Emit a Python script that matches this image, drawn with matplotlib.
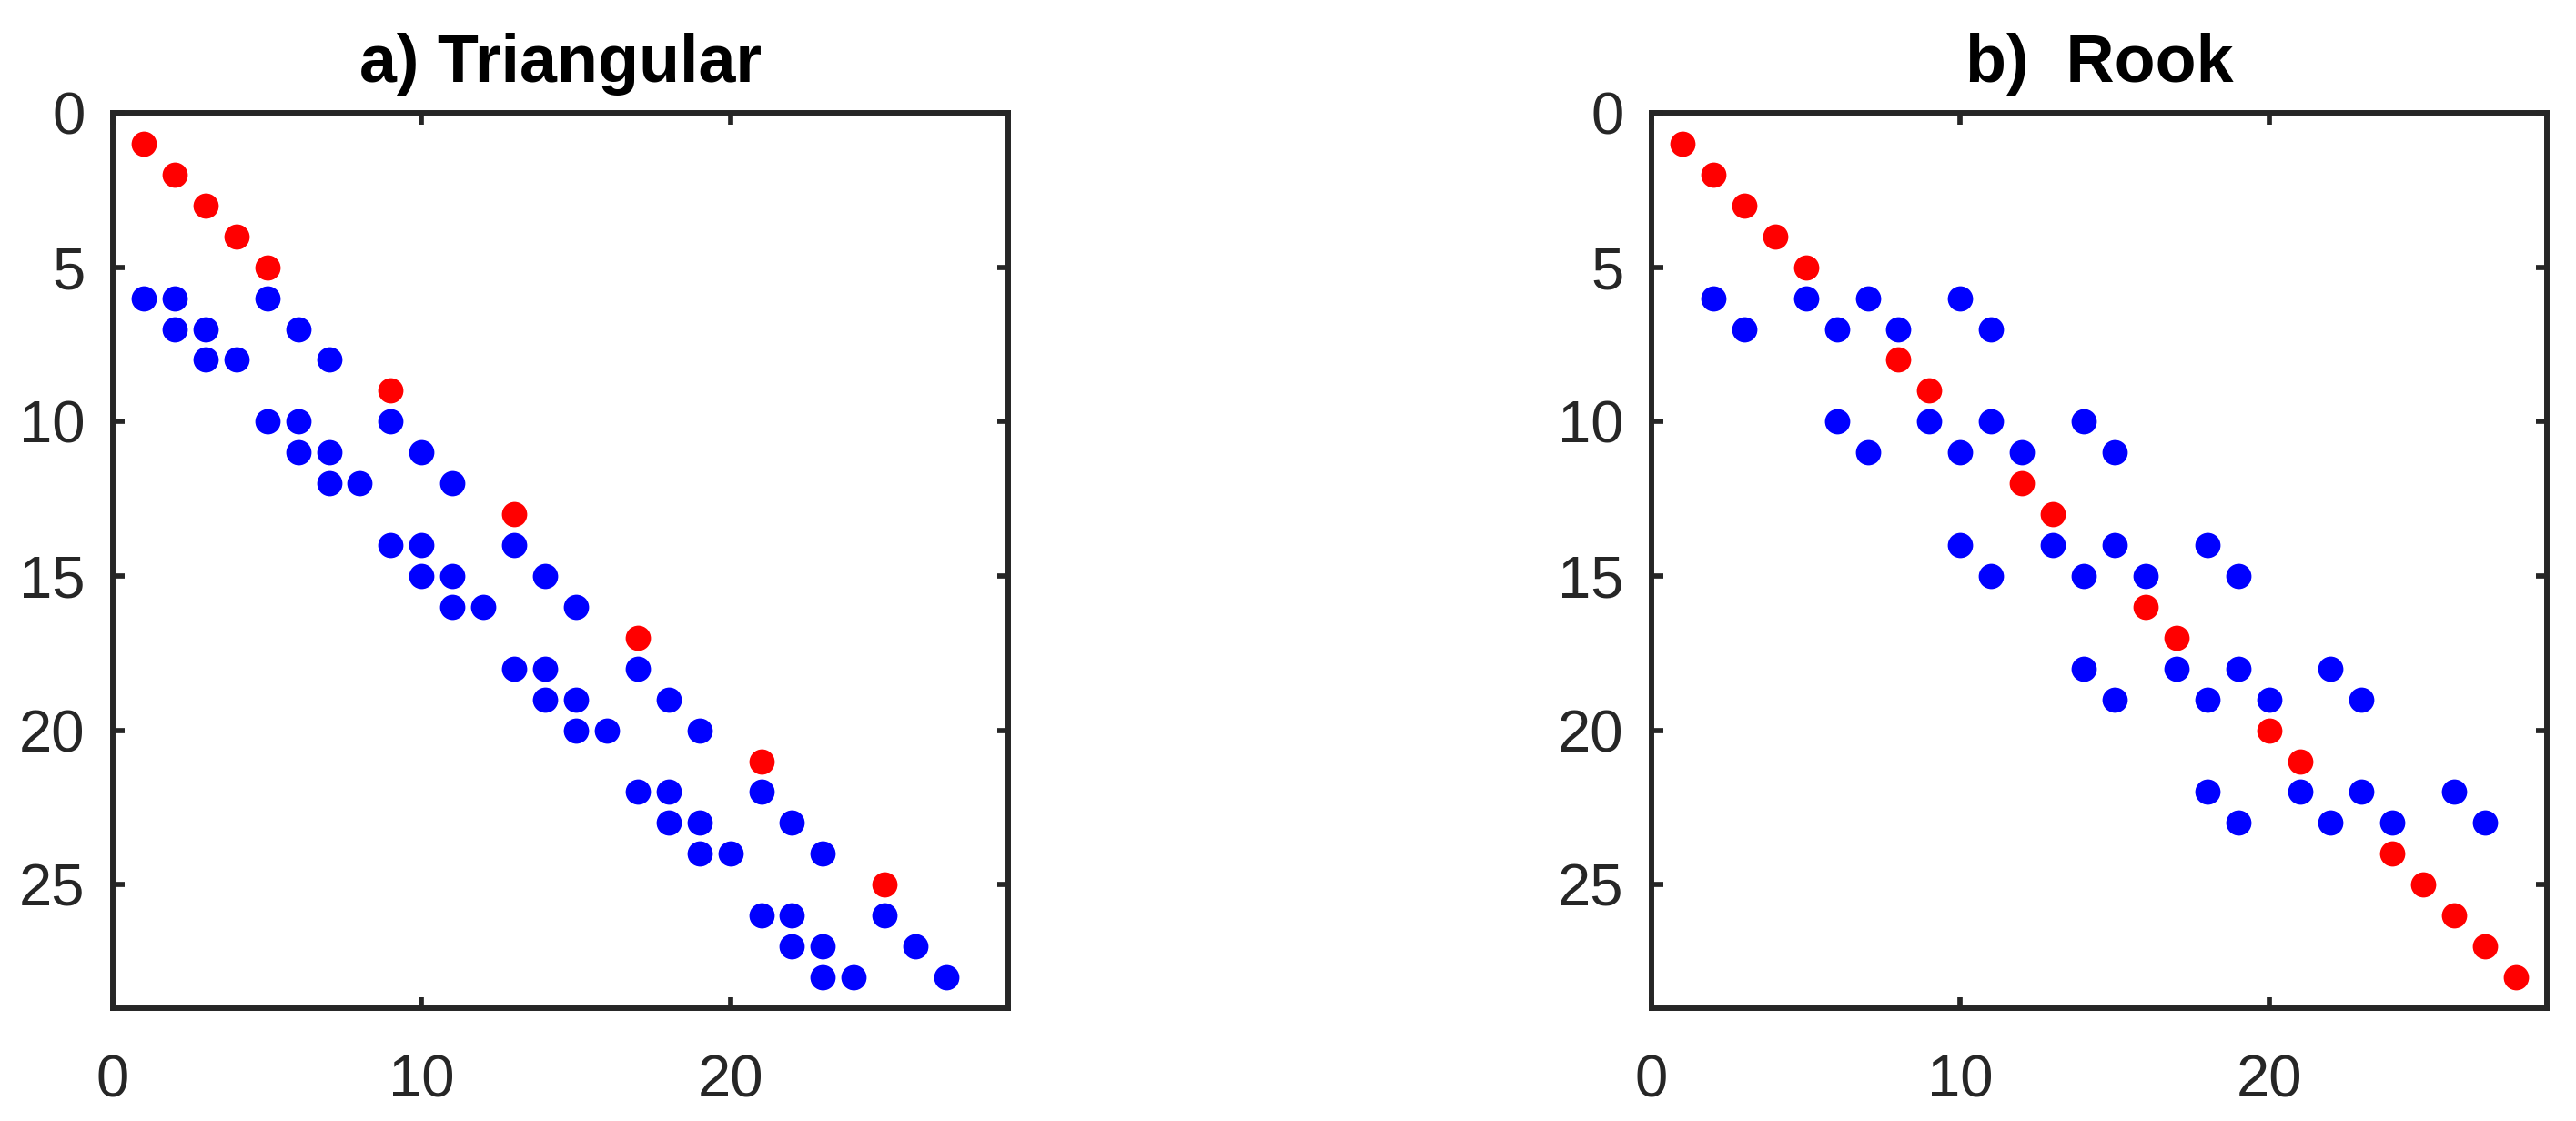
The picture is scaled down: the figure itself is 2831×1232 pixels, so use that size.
import matplotlib
matplotlib.use("Agg")
import matplotlib.pyplot as plt

plt.rcParams['font.family'] = ['Liberation Sans', 'DejaVu Sans']

# ---- data ----
titles = ["a) Triangular", "b)  Rook"]

tri_red = [1, 2, 3, 4, 5, 9, 13, 17, 21, 25]
tri_blue_rows = [6, 6, 6, 7, 7, 7, 8, 8, 8,
                 10, 10, 10, 11, 11, 11, 12, 12, 12,
                 14, 14, 14, 15, 15, 15, 16, 16, 16,
                 18, 18, 18, 19, 19, 19, 20, 20, 20,
                 22, 22, 22, 23, 23, 23, 24, 24, 24,
                 26, 26, 26, 27, 27, 27, 28, 28, 28]
tri_blue_cols = [1, 2, 5, 2, 3, 6, 3, 4, 7,
                 5, 6, 9, 6, 7, 10, 7, 8, 11,
                 9, 10, 13, 10, 11, 14, 11, 12, 15,
                 13, 14, 17, 14, 15, 18, 15, 16, 19,
                 17, 18, 21, 18, 19, 22, 19, 20, 23,
                 21, 22, 25, 22, 23, 26, 23, 24, 27]

rook_red = [1, 2, 3, 4, 5, 8, 9, 12, 13, 16, 17, 20, 21, 24, 25, 26, 27, 28]
rook_blue_rows = [6, 6, 6, 6, 7, 7, 7, 7,
                  10, 10, 10, 10, 11, 11, 11, 11,
                  14, 14, 14, 14, 15, 15, 15, 15,
                  18, 18, 18, 18, 19, 19, 19, 19,
                  22, 22, 22, 22, 23, 23, 23, 23]
rook_blue_cols = [2, 5, 7, 10, 3, 6, 8, 11,
                  6, 9, 11, 14, 7, 10, 12, 15,
                  10, 13, 15, 18, 11, 14, 16, 19,
                  14, 17, 19, 22, 15, 18, 20, 23,
                  18, 21, 23, 26, 19, 22, 24, 27]

x_ticks = [0, 10, 20]
y_ticks = [0, 5, 10, 15, 20, 25]
lim = 29

W, H = 2831, 1232
fig = plt.figure(figsize=(W / 100, H / 100), dpi=100)

ax_w = 984 / W
ax_h = 984 / H
bottom = (H - 1108) / H
lefts = [124 / W, 1815 / W]

panels = [
    (tri_red, tri_blue_rows, tri_blue_cols),
    (rook_red, rook_blue_rows, rook_blue_cols),
]

dark = '#262626'
for i, (red, brows, bcols) in enumerate(panels):
    ax = fig.add_axes([lefts[i], bottom, ax_w, ax_h])
    ax.plot(bcols, brows, linestyle='none', marker='o', ms=20,
            mew=0, color='#0000FF')
    ax.plot(red, red, linestyle='none', marker='o', ms=20,
            mew=0, color='#FF0000')
    ax.set_xlim(0, lim)
    ax.set_ylim(lim, 0)
    ax.set_xticks(x_ticks)
    ax.set_yticks(y_ticks)
    for s in ax.spines.values():
        s.set_linewidth(4.3)
        s.set_color(dark)
    ax.tick_params(axis='both', direction='in', length=9, width=4.1,
                   color=dark, labelcolor=dark, labelsize=47,
                   top=True, right=True)
    ax.tick_params(axis='x', pad=36.5)
    ax.tick_params(axis='y', pad=22)
    ax.set_title(titles[i], fontsize=53, fontweight='bold', color='black',
                 pad=24.8)

fig.savefig('out.png', dpi=100)
